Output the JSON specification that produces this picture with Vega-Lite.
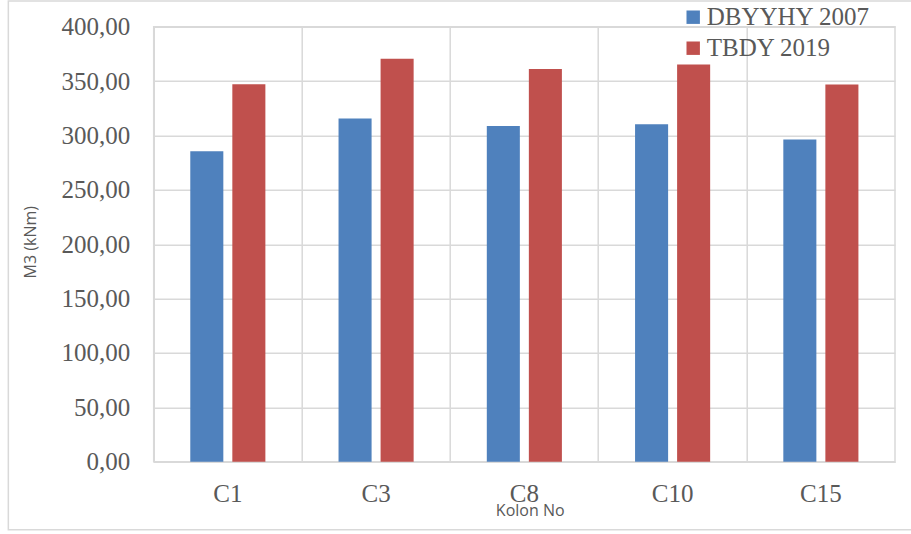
{
  "$schema": "https://vega.github.io/schema/vega-lite/v6.json",
  "width": 741.3,
  "height": 435,
  "autosize": {"type": "none"},
  "padding": {"left": 153.7, "top": 26.7, "right": 16, "bottom": 72.3},
  "background": "#ffffff",
  "config": {
    "view": {"stroke": "#d9d9d9", "strokeWidth": 1.5},
    "axis": {"gridColor": "#d9d9d9", "gridWidth": 1.5, "domainColor": "#d9d9d9", "domainWidth": 1.5}
  },
  "datasets": {
    "moments": [
      {"kolon": "C1", "yonetmelik": "DBYYHY 2007", "m3": 285.5},
      {"kolon": "C1", "yonetmelik": "TBDY 2019", "m3": 347.0},
      {"kolon": "C3", "yonetmelik": "DBYYHY 2007", "m3": 315.7},
      {"kolon": "C3", "yonetmelik": "TBDY 2019", "m3": 370.5},
      {"kolon": "C8", "yonetmelik": "DBYYHY 2007", "m3": 308.8},
      {"kolon": "C8", "yonetmelik": "TBDY 2019", "m3": 361.0},
      {"kolon": "C10", "yonetmelik": "DBYYHY 2007", "m3": 310.3},
      {"kolon": "C10", "yonetmelik": "TBDY 2019", "m3": 365.3},
      {"kolon": "C15", "yonetmelik": "DBYYHY 2007", "m3": 296.3},
      {"kolon": "C15", "yonetmelik": "TBDY 2019", "m3": 346.9}
    ]
  },
  "layer": [
    {
      "data": {"values": [{}]},
      "mark": {"type": "rect", "fill": null, "stroke": "#d9d9d9", "strokeWidth": 1.5, "clip": false},
      "encoding": {
        "x": {"datum": -0.1961, "type": "quantitative", "scale": {"domain": [0, 1]}, "axis": null},
        "x2": {"datum": 1.03},
        "y": {"datum": 423.6, "type": "quantitative"},
        "y2": {"datum": -62.5}
      }
    },
    {
      "data": {"name": "moments"},
      "mark": {"type": "bar"},
      "encoding": {
        "x": {
          "field": "kolon",
          "type": "nominal",
          "sort": ["C1", "C3", "C8", "C10", "C15"],
          "scale": {"paddingInner": 0, "paddingOuter": 0},
          "axis": {
            "title": "Kolon No",
            "titleFont": "Open Sans",
            "titleFontSize": 16,
            "titleFontWeight": "normal",
            "titleColor": "#595959",
            "titleX": 376,
            "titleY": 54,
            "titleBaseline": "alphabetic",
            "titleAlign": "center",
            "labelFont": "Liberation Serif",
            "labelFontSize": 25,
            "labelColor": "#595959",
            "labelAngle": 0,
            "labelBaseline": "alphabetic",
            "labelPadding": 40,
            "ticks": false,
            "grid": true,
            "bandPosition": 0
          }
        },
        "xOffset": {
          "field": "yonetmelik",
          "type": "nominal",
          "scale": {"paddingInner": 0.214, "paddingOuter": 0.87}
        },
        "y": {
          "field": "m3",
          "type": "quantitative",
          "scale": {"domain": [0, 400], "nice": false},
          "axis": {
            "title": "M3 (kNm)",
            "titleFont": "Open Sans",
            "titleFontSize": 16,
            "titleFontWeight": "normal",
            "titleColor": "#595959",
            "titleAngle": -90,
            "titleX": -123,
            "titleY": 215,
            "titleAlign": "center",
            "titleBaseline": "middle",
            "values": [0, 50, 100, 150, 200, 250, 300, 350, 400],
            "labelExpr": "replace(format(datum.value, '.2f'), '.', ',')",
            "labelFont": "Liberation Serif",
            "labelFontSize": 25,
            "labelColor": "#595959",
            "labelPadding": 24,
            "ticks": false,
            "grid": true,
            "domain": true
          }
        },
        "color": {
          "field": "yonetmelik",
          "type": "nominal",
          "scale": {"domain": ["DBYYHY 2007", "TBDY 2019"], "range": ["#4f81bd", "#c0504d"]},
          "legend": {
            "title": null,
            "orient": "none",
            "legendX": 527,
            "legendY": -22,
            "padding": 0,
            "symbolType": "square",
            "symbolSize": 180,
            "symbolStrokeWidth": 0,
            "labelFont": "Liberation Serif",
            "labelFontSize": 25,
            "labelColor": "#595959",
            "labelOffset": 1,
            "labelLimit": 0,
            "rowPadding": 5
          }
        }
      }
    }
  ],
  "resolve": {"scale": {"x": "independent"}}
}
